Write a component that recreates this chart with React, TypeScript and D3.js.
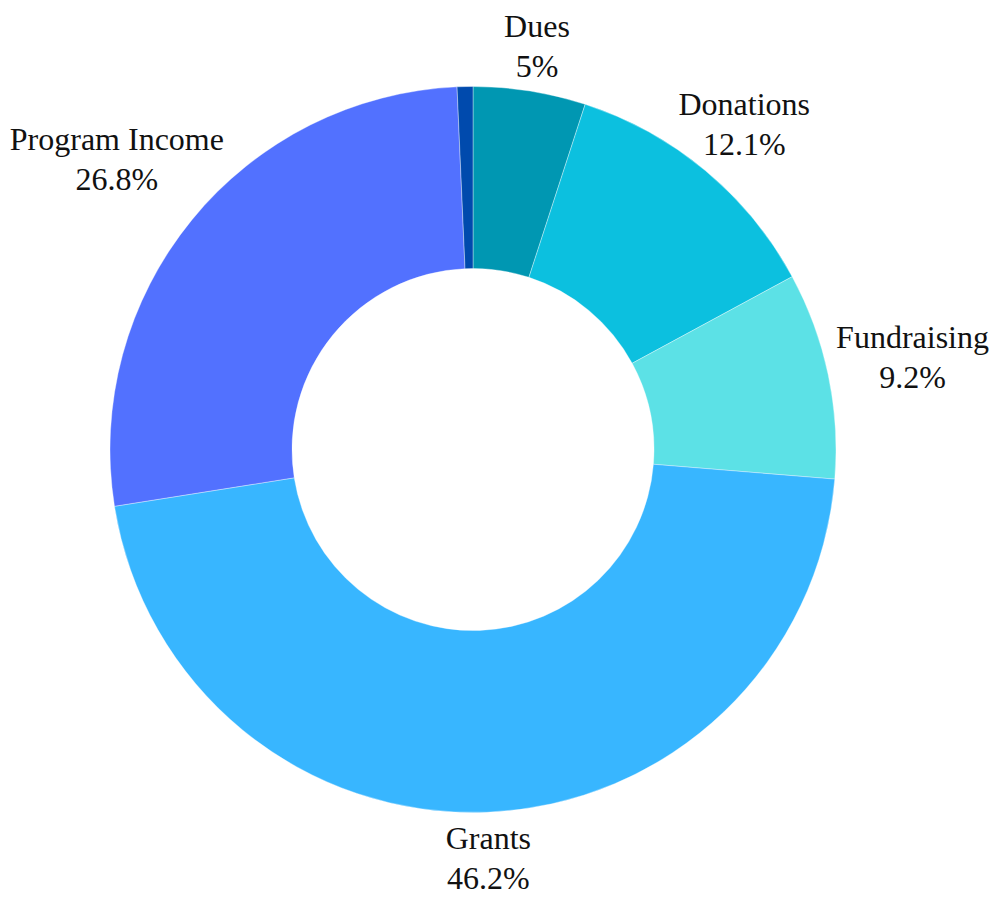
import React, { useEffect, useRef } from "react";
import * as d3 from "d3";

// slices in clockwise order from 12 o'clock
const categories = ["Dues", "Donations", "Fundraising", "Grants", "Program Income", "Other"];
const shares = [5, 12.1, 9.2, 46.2, 26.8, 0.7];
const showLabel = [true, true, true, true, true, false];
const colors = ["#0097B2", "#0CC0DF", "#5CE1E6", "#38B6FF", "#5271FF", "#004AAD"];

const W = 1003;
const H = 899;
const CX = 473;
const CY = 449.5;
const OUTER = 363;
const INNER = 181;
const FONT = "'Liberation Serif', 'DejaVu Serif', serif";

export default function App() {
  const ref = useRef<SVGSVGElement>(null);

  useEffect(() => {
    if (!ref.current) return;
    const svg = d3.select(ref.current);
    svg.selectAll("*").remove();

    const data = categories.map((name, i) => ({ name, value: shares[i], i }));
    const pie = d3.pie<typeof data[0]>().value((d) => d.value).sort(null);
    const arcs = pie(data);
    const arc = d3.arc<d3.PieArcDatum<typeof data[0]>>().innerRadius(INNER).outerRadius(OUTER);

    const g = svg.append("g").attr("transform", `translate(${CX},${CY})`);

    g.selectAll("path.slice").data(arcs).enter()
      .append("path").attr("class", "slice")
      .attr("d", arc)
      .attr("fill", (d) => colors[d.data.i])
      .attr("stroke", "#ffffff")
      .attr("stroke-opacity", 0.6)
      .attr("stroke-width", 0.6);

    // labels: name + percentage stacked, pushed outward by their own box size
    const labels = g.selectAll("g.label").data(arcs.filter((d) => showLabel[d.data.i])).enter()
      .append("g").attr("class", "label");

    labels.append("text")
      .attr("text-anchor", "middle").attr("dominant-baseline", "central")
      .attr("y", -20)
      .attr("font-family", FONT).attr("font-size", 32).attr("fill", "#111")
      .text((d) => d.data.name);
    labels.append("text")
      .attr("text-anchor", "middle").attr("dominant-baseline", "central")
      .attr("y", 20)
      .attr("font-family", FONT).attr("font-size", 32).attr("fill", "#111")
      .text((d) => `${d.data.value}%`);

    labels.attr("transform", function (d) {
      const a = (d.startAngle + d.endAngle) / 2;
      const box = (this as SVGGElement).getBBox();
      const hw = box.width / 2;
      const hh = 35;
      const s = Math.sin(a), c = Math.cos(a);
      const extra = 11 + Math.sqrt((Math.abs(s) * hw) ** 2 + (Math.abs(c) * hh) ** 2);
      const r = OUTER + extra;
      return `translate(${r * s},${-r * c})`;
    });
  }, []);

  return (
    <svg
      ref={ref}
      width={W}
      height={H}
      style={{ display: "block", position: "absolute", left: 0, top: 0, background: "#fff" }}
    ></svg>
  );
}
